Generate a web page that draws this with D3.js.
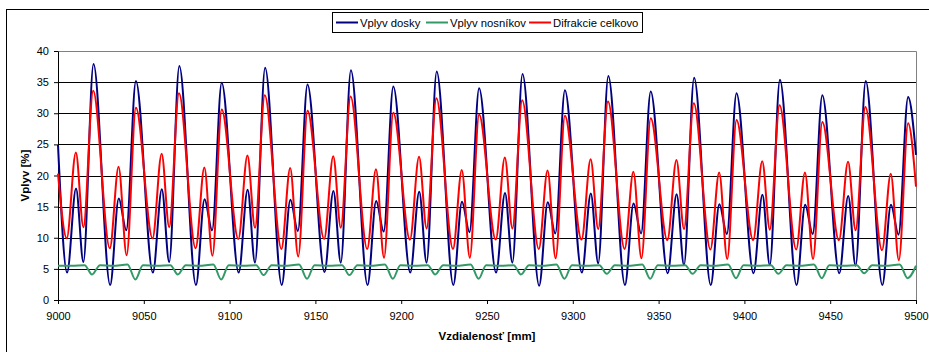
<!DOCTYPE html>
<html>
<head>
<meta charset="utf-8">
<script src="https://cdn.jsdelivr.net/npm/d3@7"></script>
<style>
  html, body { margin: 0; padding: 0; background: #fff; }
  svg { display: block; font-family: "Liberation Sans", Arial, sans-serif; }
</style>
</head>
<body>
<svg id="chart" width="929" height="352"></svg>
<script>
// values: [vzdialenost mm, vplyv %] at the turning points of each curve
var vplyvDosky = [
    [9000, 24.9],
    [9005.3, 4.4], [9010.5, 17.9], [9014.8, 6.1], [9020.7, 37.9], [9030.4, 2.4], [9035.4, 16.3], [9039.8, 11.2], [9045.4, 35.2],
    [9055.3, 4.4], [9060.5, 17.8], [9064.8, 6.1], [9070.7, 37.6], [9080.4, 2.4], [9085.4, 16.2], [9089.8, 11.2], [9095.4, 34.9],
    [9105.3, 4.4], [9110.5, 17.7], [9114.8, 6.0], [9120.7, 37.3], [9130.4, 2.4], [9135.4, 16.1], [9139.8, 11.1], [9145.4, 34.6],
    [9155.3, 4.5], [9160.5, 17.5], [9164.8, 6.0], [9170.7, 36.9], [9180.4, 2.4], [9185.4, 15.9], [9189.8, 11.0], [9195.4, 34.3],
    [9205.3, 4.4], [9210.5, 17.4], [9214.8, 6.0], [9220.7, 36.7], [9230.4, 2.4], [9235.4, 15.8], [9239.8, 10.9], [9245.4, 34.0],
    [9255.3, 4.4], [9260.5, 17.2], [9264.8, 6.0], [9270.7, 36.3], [9280.4, 2.3], [9285.4, 15.7], [9289.8, 10.7], [9295.4, 33.7],
    [9305.3, 4.4], [9310.5, 17.1], [9314.8, 5.9], [9320.7, 36.0], [9330.4, 2.4], [9335.4, 15.5], [9339.8, 10.7], [9345.4, 33.5],
    [9355.3, 4.3], [9360.5, 17.0], [9364.8, 5.6], [9370.7, 35.7], [9380.4, 2.4], [9385.4, 15.4], [9389.8, 10.6], [9395.4, 33.2],
    [9405.3, 4.3], [9410.5, 16.9], [9414.8, 5.6], [9420.7, 35.4], [9430.4, 2.4], [9435.4, 15.3], [9439.8, 10.6], [9445.4, 32.9],
    [9455.3, 4.3], [9460.5, 16.7], [9464.8, 5.5], [9470.7, 35.2], [9480.4, 2.4], [9485.4, 15.3], [9489.8, 10.5], [9495.4, 32.6],
    [9500, 23.3]
];

var vplyvNosnikov = [
    [9000, 5.5],
    [9008, 5.5], [9015.5, 5.6], [9019.8, 4.1], [9024.5, 5.6], [9032, 5.5], [9040.5, 5.7], [9045.1, 3.3], [9049.5, 5.6],
    [9058, 5.5], [9065.5, 5.6], [9069.8, 4.1], [9074.5, 5.6], [9082, 5.5], [9090.5, 5.7], [9095.1, 3.3], [9099.5, 5.6],
    [9108, 5.5], [9115.5, 5.6], [9119.8, 4.0], [9124.5, 5.6], [9132, 5.5], [9140.5, 5.7], [9145.1, 3.4], [9149.5, 5.6],
    [9158, 5.5], [9165.5, 5.6], [9169.8, 4.0], [9174.5, 5.6], [9182, 5.5], [9190.5, 5.7], [9195.1, 3.4], [9199.5, 5.6],
    [9208, 5.5], [9215.5, 5.6], [9219.8, 4.1], [9224.5, 5.6], [9232, 5.5], [9240.5, 5.7], [9245.1, 3.4], [9249.5, 5.6],
    [9258, 5.5], [9265.5, 5.6], [9269.8, 4.1], [9274.5, 5.6], [9282, 5.5], [9290.5, 5.7], [9295.1, 3.4], [9299.5, 5.6],
    [9308, 5.5], [9315.5, 5.6], [9319.8, 4.2], [9324.5, 5.6], [9332, 5.5], [9340.5, 5.7], [9345.1, 3.4], [9349.5, 5.6],
    [9358, 5.5], [9365.5, 5.6], [9369.8, 4.2], [9374.5, 5.6], [9382, 5.5], [9390.5, 5.7], [9395.1, 3.5], [9399.5, 5.6],
    [9408, 5.5], [9415.5, 5.6], [9419.8, 4.2], [9424.5, 5.6], [9432, 5.5], [9440.5, 5.7], [9445.1, 3.5], [9449.5, 5.6],
    [9458, 5.5], [9465.5, 5.6], [9469.8, 4.3], [9474.5, 5.6], [9482, 5.5], [9490.5, 5.7], [9495.1, 3.5],
    [9500, 5.5]
];

var difrakcieCelkovo = [
    [9000, 20.3],
    [9005.1, 9.9], [9010.4, 23.7], [9014.8, 11.7], [9020.5, 33.6], [9030.2, 8.3], [9035.3, 21.4], [9040, 7.2], [9045.4, 30.9],
    [9055.1, 9.9], [9060.4, 23.5], [9064.8, 11.7], [9070.5, 33.2], [9080.2, 8.3], [9085.3, 21.3], [9090, 7.1], [9095.4, 30.6],
    [9105.1, 9.8], [9110.4, 23.2], [9114.8, 11.6], [9120.5, 32.9], [9130.2, 8.2], [9135.3, 21.2], [9140, 7.0], [9145.4, 30.4],
    [9155.1, 9.8], [9160.4, 23.1], [9164.8, 11.6], [9170.5, 32.7], [9180.2, 8.2], [9185.3, 21.0], [9190, 6.8], [9195.4, 30.1],
    [9205.1, 9.7], [9210.4, 23.0], [9214.8, 11.5], [9220.5, 32.4], [9230.2, 8.2], [9235.3, 20.9], [9240, 6.8], [9245.4, 29.8],
    [9255.1, 9.7], [9260.4, 22.9], [9264.8, 11.5], [9270.5, 32.1], [9280.2, 8.2], [9285.3, 20.8], [9290, 6.7], [9295.4, 29.6],
    [9305.1, 9.7], [9310.4, 22.6], [9314.8, 11.4], [9320.5, 31.9], [9330.2, 8.2], [9335.3, 20.6], [9340, 6.7], [9345.4, 29.2],
    [9355.1, 9.6], [9360.4, 22.5], [9364.8, 11.4], [9370.5, 31.6], [9380.2, 8.1], [9385.3, 20.5], [9390, 6.6], [9395.4, 28.9],
    [9405.1, 9.6], [9410.4, 22.3], [9414.8, 11.3], [9420.5, 31.3], [9430.2, 8.1], [9435.3, 20.5], [9440, 6.6], [9445.4, 28.6],
    [9455.1, 9.6], [9460.4, 22.2], [9464.8, 11.2], [9470.5, 31.0], [9480.2, 8.0], [9485.3, 20.3], [9490, 6.4], [9495.4, 28.4],
    [9500, 18.2]
];

var xTicks = [9000, 9050, 9100, 9150, 9200, 9250, 9300, 9350, 9400, 9450, 9500];
var yTicks = [0, 5, 10, 15, 20, 25, 30, 35, 40];

var series = [
    { name: "Vplyv dosky", color: "#000080", data: vplyvDosky },
    { name: "Vplyv nosníkov", color: "#339966", data: vplyvNosnikov },
    { name: "Difrakcie celkovo", color: "#ff0000", data: difrakcieCelkovo }
];

var svg = d3.select("#chart");

// chart frame
svg.append("rect")
    .attr("x", 6.5).attr("y", 9.5)
    .attr("width", 940).attr("height", 360)
    .attr("fill", "#fff").attr("stroke", "#000");

var x = d3.scaleLinear().domain([9000, 9500]).range([58, 916]);
var y = d3.scaleLinear().domain([0, 40]).range([300, 51]);

function py(v) { return Math.round(y(v)) + 0.5; }

// gridlines
svg.append("g")
    .selectAll("line")
    .data(yTicks.filter(function (v) { return v > 0 && v < 40; }))
    .enter().append("line")
    .attr("x1", x(9000)).attr("x2", x(9500))
    .attr("y1", py).attr("y2", py)
    .attr("stroke", "#000").attr("stroke-width", 1);

// plot area border (top + right)
svg.append("path")
    .attr("d", "M" + x(9000) + "," + py(40) + "H" + (x(9500) + 0.5) + "V" + py(0))
    .attr("fill", "none").attr("stroke", "#808080");

function styleAxis(g) {
    g.select(".domain").attr("stroke", "#000");
    g.selectAll(".tick line").attr("stroke", "#000");
    g.selectAll("text").attr("font-size", 11).attr("fill", "#000")
        .attr("font-family", "'Liberation Sans', Arial, sans-serif");
}

// axes
var xAxis = d3.axisBottom(x).tickValues(xTicks).tickSize(4).tickSizeOuter(0).tickPadding(8)
    .tickFormat(d3.format("d"));
var yAxis = d3.axisLeft(y).tickValues(yTicks).tickSize(4).tickSizeOuter(0).tickPadding(5);

svg.append("g")
    .attr("transform", "translate(0," + Math.round(y(0)) + ")")
    .call(xAxis)
    .call(styleAxis);

svg.append("g")
    .attr("transform", "translate(" + Math.round(x(9000)) + ",0)")
    .call(yAxis)
    .call(styleAxis);

// series lines
var line = d3.line()
    .x(function (d) { return x(d[0]); })
    .y(function (d) { return y(d[1]); })
    .curve(d3.curveMonotoneX);

svg.append("g")
    .selectAll("path")
    .data(series)
    .enter().append("path")
    .attr("d", function (s) { return line(s.data); })
    .attr("fill", "none")
    .attr("stroke", function (s) { return s.color; })
    .attr("stroke-width", 2)
    .attr("stroke-linejoin", "round");

// axis titles
svg.append("text")
    .attr("x", 487).attr("y", 340)
    .attr("text-anchor", "middle")
    .attr("font-size", 11.5).attr("font-weight", "bold")
    .text("Vzdialenosť [mm]");

svg.append("text")
    .attr("transform", "translate(29," + ((y(0) + y(40)) / 2) + ") rotate(-90)")
    .attr("text-anchor", "middle")
    .attr("font-size", 11.5).attr("font-weight", "bold")
    .text("Vplyv [%]");

// legend
var legend = svg.append("g");
legend.append("rect")
    .attr("x", 332.5).attr("y", 12.5)
    .attr("width", 310).attr("height", 20)
    .attr("fill", "#fff").attr("stroke", "#000");

var legendX = [336, 426, 529];
var items = legend.selectAll("g.item")
    .data(series)
    .enter().append("g")
    .attr("class", "item")
    .attr("transform", function (s, i) { return "translate(" + legendX[i] + ",22.5)"; });

items.append("line")
    .attr("x1", 0).attr("x2", 22)
    .attr("stroke", function (s) { return s.color; })
    .attr("stroke-width", 2);

items.append("text")
    .attr("x", 24).attr("y", 4)
    .attr("font-size", 11.3)
    .text(function (s) { return s.name; });
</script>
</body>
</html>
